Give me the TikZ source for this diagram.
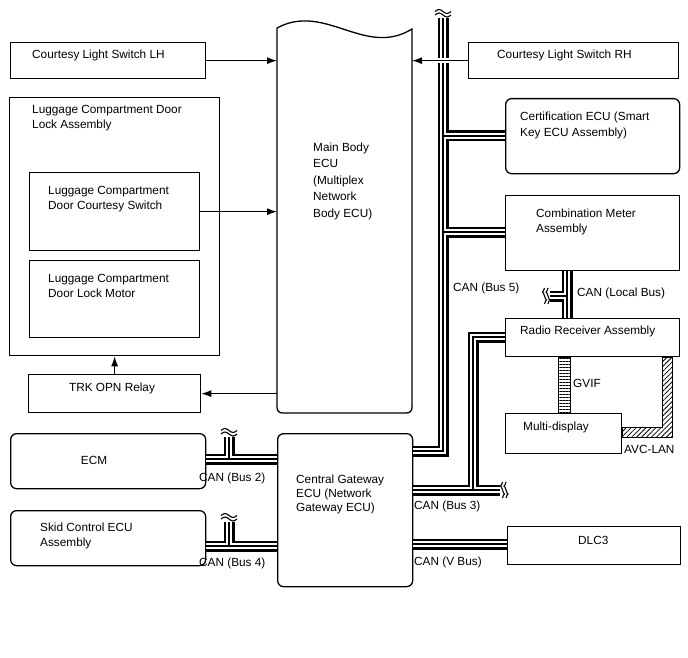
\documentclass[tikz,border=0pt]{standalone}
\usepackage{fontspec}
\setmainfont{Liberation Sans}
\usetikzlibrary{arrows.meta,patterns.meta}

\tikzset{
  box/.style={draw, line width=1.3pt, anchor=north west, inner sep=0pt},
  ecu/.style={box, rounded corners=6pt},
  lbl/.style={inner sep=0pt, anchor=base west, align=left, font=\fontsize{11.8}{15}\selectfont},
  sig/.style={line width=1.2pt, -{Latex[length=10pt,width=7pt]}},
  vbreak/.pic={
    \draw[line width=1.1pt] (-8,-1.5) sin (-4,-3.5) cos (0,-1.5) sin (4,0.5) cos (8,-1.5);
    \draw[line width=1.1pt] (-8,2) sin (-4,0) cos (0,2) sin (4,4) cos (8,2);
  },
  hbreak/.pic={
    \draw[line width=1.1pt] (-1.5,-8) sin (-3.5,-4) cos (-1.5,0) sin (0.5,4) cos (-1.5,8);
    \draw[line width=1.1pt] (2,-8) sin (0,-4) cos (2,0) sin (4,4) cos (2,8);
  }
}

\begin{document}
\begin{tikzpicture}[x=1pt,y=-1pt]
  \useasboundingbox (0,0) rectangle (688,658);

  % left column
  \node[box, minimum width=195, minimum height=36] (lh) at (10,42) {};
  \node[box, minimum width=210, minimum height=258] (lockassy) at (9,97) {};
  \node[box, minimum width=170, minimum height=78] (doorsw) at (29,172) {};
  \node[box, minimum width=170, minimum height=77] (motor) at (29,260) {};
  \node[box, minimum width=172, minimum height=38] (trk) at (28,374) {};
  \node[ecu, minimum width=195, minimum height=55] (ecm) at (10,433) {};
  \node[ecu, minimum width=195, minimum height=55] (skid) at (10,510) {};

  % middle
  \node[anchor=north west, inner sep=0pt, outer sep=0pt, minimum width=135, minimum height=385] (body) at (277,28) {};
  \draw[line width=1.3pt] (277,28) .. controls (325,2) and (365,58) .. (412,29)
    -- (412,407) .. controls (412,411) and (410,413) .. (406,413)
    -- (283,413) .. controls (279,413) and (277,411) .. (277,407) -- cycle;
  \node[ecu, minimum width=135, minimum height=153] (gw) at (277,433) {};

  % right column
  \node[box, minimum width=210, minimum height=36] (rh) at (468,42) {};
  \node[ecu, minimum width=174, minimum height=75] (cert) at (505,98) {};
  \node[box, minimum width=174, minimum height=75] (meter) at (505,195) {};
  \node[box, minimum width=174, minimum height=38] (radio) at (505,318) {};
  \node[box, minimum width=116, minimum height=40] (mfd) at (505,413) {};
  \node[box, minimum width=173, minimum height=38] (dlc) at (507,526) {};

  % texts (multi-line: base = last line)
  \node[lbl] (lhtext) at (32,59) {Courtesy Light Switch LH};
  \node[lbl] (rhtext) at (497,59) {Courtesy Light Switch RH};
  \node[lbl] (lockassytext) at (32,129) {Luggage Compartment Door\\Lock Assembly};
  \node[lbl] (doorswtext) at (48,209) {Luggage Compartment\\Door Courtesy Switch};
  \node[lbl] (motortext) at (48,297) {Luggage Compartment\\Door Lock Motor};
  \node[lbl, anchor=base] (trktext) at (112,391) {TRK OPN Relay};
  \node[lbl, anchor=base] (ecmtext) at (94,464) {ECM};
  \node[lbl] (skidtext) at (40,546) {Skid Control ECU\\Assembly};
  \node[lbl, font=\fontsize{11.8}{16.5}\selectfont] (bodytext) at (313,217) {Main Body\\ECU\\(Multiplex\\Network\\Body ECU)};
  \node[lbl, font=\fontsize{11.8}{14}\selectfont] (gwtext) at (296,511) {Central Gateway\\ECU (Network\\Gateway ECU)};
  \node[lbl] (certtext) at (520,136) {Certification ECU (Smart\\Key ECU Assembly)};
  \node[lbl] (metertext) at (536,232) {Combination Meter\\Assembly};
  \node[lbl] (radiotext) at (520,334) {Radio Receiver Assembly};
  \node[lbl] (mfdtext) at (523,430) {Multi-display};
  \node[lbl] (dlctext) at (578,544) {DLC3};
  \node[lbl] (gviftext) at (573,387) {GVIF};
  \node[lbl] (avctext) at (624,453) {AVC-LAN};
  \node[lbl] (localtext) at (577,296) {CAN (Local Bus)};
  \node[lbl] (bus5text) at (453,291) {CAN (Bus 5)};
  \node[lbl] (bus2text) at (199,481) {CAN (Bus 2)};
  \node[lbl] (bus4text) at (199,566) {CAN (Bus 4)};
  \node[lbl] (bus3text) at (414,509) {CAN (Bus 3)};
  \node[lbl] (vbustext) at (414,565) {CAN (V Bus)};

  % CAN lines
  \coordinate (b5top) at (443,18);
  \coordinate (b5end) at (443,451);
  \coordinate (radiojoin) at (473,337);
  \coordinate (bus3end) at (500,490);
  \coordinate (bus2top) at (229,437);
  \coordinate (bus4top) at (229,522);
  \coordinate (localend) at (550,296);
  \foreach \w/\c in {11/black,5.2/white,1.2/black}{
    \draw[line width=\w pt, draw=\c, line join=miter]
      (b5top) -- (b5end) -- (b5end -| gw.east)
      (443,136) -- (443,136 -| cert.west)
      (443,232) -- (443,232 -| meter.west)
      (radio.west |- radiojoin) -- (radiojoin) -- (radiojoin |- bus3end)
      (gw.east |- bus3end) -- (bus3end)
      (gw.east |- 0,544) -- (dlc.west |- 0,544)
      (ecm.east |- 0,459) -- (gw.west |- 0,459)
      (bus2top |- 0,459) -- (bus2top)
      (skid.east |- 0,546) -- (gw.west |- 0,546)
      (bus4top |- 0,546) -- (bus4top)
      (meter.south -| 567,0) -- (radio.north -| 567,0)
      (567,0 |- localend) -- (localend);
  }
  \pic at (443,13) {vbreak};
  \pic at (229,432) {vbreak};
  \pic at (229,517) {vbreak};
  \pic at (504,490) {hbreak};
  \pic at (546,296) {hbreak};

  % GVIF and AVC-LAN
  \draw[line width=1pt, pattern={Lines[angle=0,distance=3pt,line width=0.6pt]}] (558,0 |- radio.south) rectangle (570,0 |- mfd.north);
  \draw[line width=1pt, pattern={Lines[angle=45,distance=3.5pt,line width=0.8pt]}] (662,0 |- radio.south) -- (672,0 |- radio.south)
    -- (672,437) -- (mfd.east |- 0,437) -- (mfd.east |- 0,427) -- (662,427) -- cycle;

  % signal lines
  \draw[sig] (lh.east) -- (lh.east -| body.west);
  \draw[sig, preaction={draw=white, line width=5pt, -, shorten <=16pt, shorten >=16pt}] (rh.west) -- (rh.west -| body.east);
  \draw[sig] (doorsw.east) -- (doorsw.east -| body.west);
  \draw[sig] (trk.north) -- (trk.north |- lockassy.south);
  \draw[sig] (body.west |- trk.east) -- (trk.east);
\end{tikzpicture}
\end{document}
